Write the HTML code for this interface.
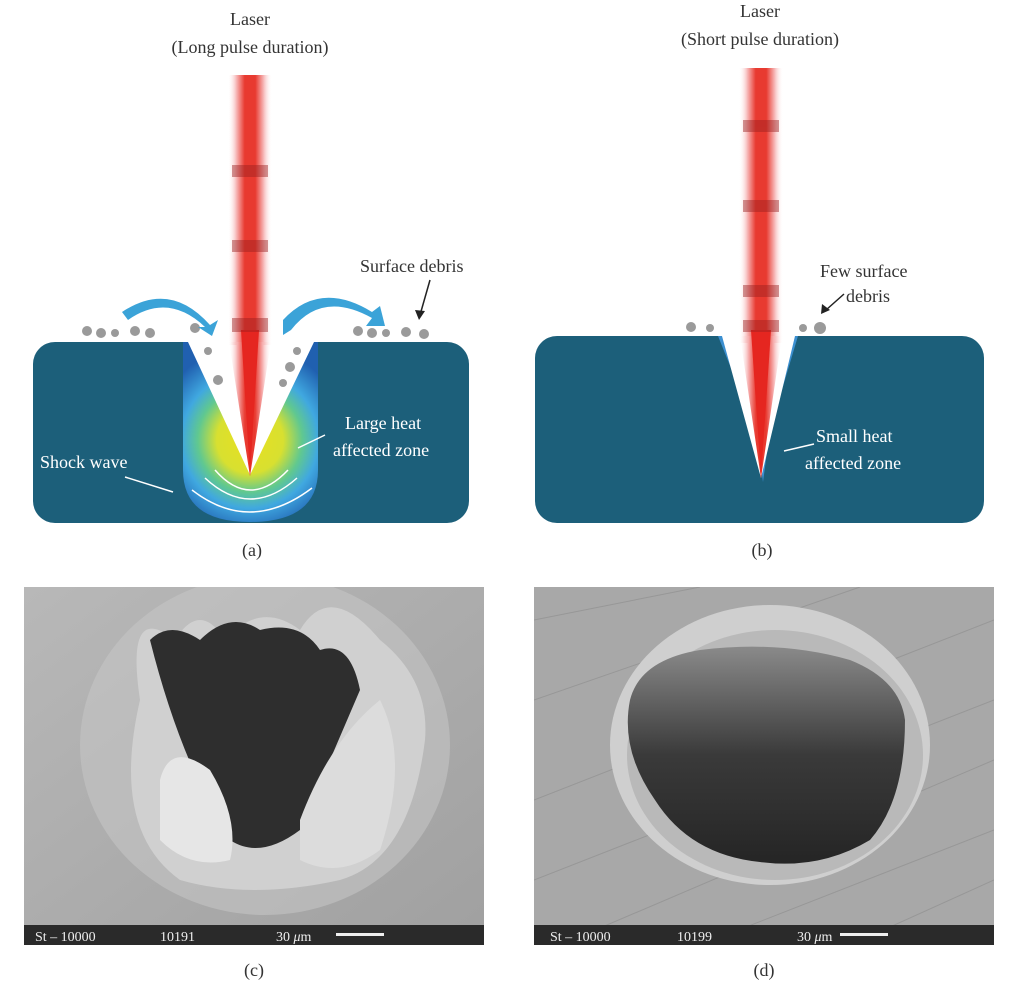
<!DOCTYPE html>
<html><head><meta charset="utf-8"><style>
html,body{margin:0;padding:0;background:#fff;}
svg{display:block;font-family:"Liberation Serif",serif;}
</style></head><body>
<svg width="1024" height="990" viewBox="0 0 1024 990" xmlns="http://www.w3.org/2000/svg">
<defs>
<linearGradient id="beam" x1="0" x2="1" y1="0" y2="0">
<stop offset="0" stop-color="#fff" stop-opacity="0"/>
<stop offset="0.2" stop-color="#f6b0b0"/>
<stop offset="0.38" stop-color="#e83a30"/>
<stop offset="0.62" stop-color="#e83a30"/>
<stop offset="0.8" stop-color="#f6b0b0"/>
<stop offset="1" stop-color="#fff" stop-opacity="0"/>
</linearGradient>
<radialGradient id="haz" cx="250" cy="440" r="95" gradientUnits="userSpaceOnUse">
<stop offset="0" stop-color="#e8e020"/>
<stop offset="0.35" stop-color="#d8e030"/>
<stop offset="0.55" stop-color="#60c890"/>
<stop offset="0.72" stop-color="#40a8e0"/>
<stop offset="1" stop-color="#2060b0"/>
</radialGradient>
<linearGradient id="semc" x1="0" x2="1" y1="0" y2="1">
<stop offset="0" stop-color="#b8b8b8"/><stop offset="1" stop-color="#a0a0a0"/>
</linearGradient>
<linearGradient id="holed" x1="0" x2="0" y1="0" y2="1">
<stop offset="0" stop-color="#8a8a8a"/><stop offset="0.5" stop-color="#3a3a3a"/><stop offset="1" stop-color="#252525"/>
</linearGradient>
<clipPath id="cc"><rect x="24" y="587" width="460" height="358"/></clipPath>
<clipPath id="cd"><rect x="534" y="587" width="460" height="358"/></clipPath>
</defs>

<!-- Panel a -->
<text x="250" y="25" font-size="18" text-anchor="middle" fill="#333">Laser</text>
<text x="250" y="53" font-size="18" text-anchor="middle" fill="#333">(Long pulse duration)</text>
<rect x="33" y="342" width="436" height="181" rx="22" fill="#1c5f7a"/>
<path d="M183 342 L318 342 L318 470 Q318 522 250 522 Q183 522 183 470 Z" fill="url(#haz)"/>
<path d="M188 342 L314 342 L250 475 Z" fill="#fff"/>
<rect x="228" y="75" width="44" height="270" fill="url(#beam)"/>
<path d="M229 342 L271 342 L250 476 Z" fill="url(#beam)"/>
<path d="M241 330 L259 330 L250 476 Z" fill="#e52620"/>
<g fill="#9a2020" opacity="0.45"><rect x="232" y="165" width="36" height="12"/><rect x="232" y="240" width="36" height="12"/><rect x="232" y="318" width="36" height="14"/></g>
<g fill="none" stroke="#fff" stroke-width="1.5">
<path d="M215 470 Q250 510 288 470"/><path d="M205 478 Q250 520 297 478"/><path d="M192 490 Q250 535 312 488"/>
</g>
<g fill="#9a9a9a">
<circle cx="87" cy="331" r="5"/><circle cx="101" cy="333" r="5"/><circle cx="115" cy="333" r="4"/><circle cx="135" cy="331" r="5"/><circle cx="150" cy="333" r="5"/>
<circle cx="195" cy="328" r="5"/><circle cx="208" cy="351" r="4"/><circle cx="218" cy="380" r="5"/>
<circle cx="297" cy="351" r="4"/><circle cx="290" cy="367" r="5"/><circle cx="283" cy="383" r="4"/>
<circle cx="358" cy="331" r="5"/><circle cx="372" cy="333" r="5"/><circle cx="386" cy="333" r="4"/><circle cx="406" cy="332" r="5"/><circle cx="424" cy="334" r="5"/>
</g>
<path d="M122 312 Q170 280 210 325 L218 320 L212 336 L198 327 L205 327 Q168 292 128 320 Z" fill="#3ba3d8"/>
<path d="M283 335 L283 320 Q320 280 372 312 L380 306 L385 326 L366 326 L372 318 Q322 290 291 330 Z" fill="#3ba3d8"/>
<text x="360" y="272" font-size="18" fill="#333">Surface debris</text>
<path d="M430 280 L420 315" stroke="#222" stroke-width="1.5"/><path d="M415 310 L419 320 L425 311 Z" fill="#222"/>
<text x="345" y="429" font-size="18" fill="#fff">Large heat</text>
<text x="333" y="456" font-size="18" fill="#fff">affected zone</text>
<path d="M325 435 L298 448" stroke="#fff" stroke-width="1.5"/>
<text x="40" y="468" font-size="18" fill="#fff">Shock wave</text>
<path d="M125 477 L173 492" stroke="#fff" stroke-width="1.5"/>
<text x="252" y="556" font-size="18" text-anchor="middle" fill="#333">(a)</text>

<!-- Panel b -->
<text x="760" y="17" font-size="18" text-anchor="middle" fill="#333">Laser</text>
<text x="760" y="45" font-size="18" text-anchor="middle" fill="#333">(Short pulse duration)</text>
<rect x="535" y="336" width="449" height="187" rx="22" fill="#1c5f7a"/>
<path d="M718 336 L798 336 L770 430 L763 482 L756 430 Z" fill="#3b8fd0"/>
<path d="M722 336 L795 336 L761 478 Z" fill="#fff"/>
<rect x="739" y="68" width="44" height="275" fill="url(#beam)"/>
<path d="M740 336 L782 336 L761 478 Z" fill="url(#beam)"/>
<path d="M751 330 L771 330 L761 478 Z" fill="#e52620"/>
<g fill="#9a2020" opacity="0.45"><rect x="743" y="120" width="36" height="12"/><rect x="743" y="200" width="36" height="12"/><rect x="743" y="285" width="36" height="12"/><rect x="743" y="320" width="36" height="12"/></g>
<g fill="#9a9a9a"><circle cx="691" cy="327" r="5"/><circle cx="710" cy="328" r="4"/><circle cx="803" cy="328" r="4"/><circle cx="820" cy="328" r="6"/></g>
<text x="820" y="277" font-size="18" fill="#333">Few surface</text>
<text x="846" y="302" font-size="18" fill="#333">debris</text>
<path d="M844 294 L826 310" stroke="#222" stroke-width="1.5"/><path d="M822 304 L821 314 L830 310 Z" fill="#222"/>
<text x="816" y="442" font-size="18" fill="#fff">Small heat</text>
<text x="805" y="469" font-size="18" fill="#fff">affected zone</text>
<path d="M814 444 L784 451" stroke="#fff" stroke-width="1.5"/>
<text x="762" y="556" font-size="18" text-anchor="middle" fill="#333">(b)</text>

<!-- SEM c -->
<g clip-path="url(#cc)">
<rect x="24" y="587" width="460" height="358" fill="url(#semc)"/>
<ellipse cx="265" cy="745" rx="185" ry="170" fill="#c4c4c4" opacity="0.6"/>
<path d="M140 700 Q125 600 175 640 Q200 600 225 640 Q260 600 300 630 Q330 580 380 640 Q430 680 425 740 Q410 860 340 880 Q250 900 180 880 Q110 830 140 700 Z" fill="#d0d0d0"/>
<path d="M150 640 Q170 620 200 640 Q230 610 260 630 Q300 620 320 650 Q350 640 360 690 Q330 760 300 830 Q260 860 230 840 Q180 760 150 640 Z" fill="#2e2e2e"/>
<path d="M160 780 Q170 740 210 770 Q240 820 230 860 Q190 870 160 840 Z" fill="#e6e6e6"/>
<path d="M300 820 Q330 740 380 700 Q410 760 380 850 Q340 880 300 860 Z" fill="#dcdcdc"/>
</g>
<rect x="24" y="925" width="460" height="20" fill="#2a2a2a"/>
<text x="35" y="941" font-size="14" fill="#eee">St – 10000</text>
<text x="160" y="941" font-size="14" fill="#eee">10191</text>
<text x="276" y="941" font-size="14" fill="#eee">30 <tspan font-style="italic">μ</tspan>m</text>
<rect x="336" y="933" width="48" height="3" fill="#eee"/>
<text x="254" y="976" font-size="18" text-anchor="middle" fill="#333">(c)</text>

<!-- SEM d -->
<g clip-path="url(#cd)">
<rect x="534" y="587" width="460" height="358" fill="#a8a8a8"/>
<g stroke="#8c8c8c" stroke-width="1" opacity="0.6">
<path d="M534 620 L700 587"/><path d="M534 700 L860 587"/><path d="M534 800 L994 620"/><path d="M560 945 L994 760"/><path d="M700 945 L994 830"/><path d="M850 945 L994 880"/><path d="M534 880 L994 700"/>
</g>
<ellipse cx="770" cy="745" rx="160" ry="140" fill="#cfcfcf"/>
<ellipse cx="775" cy="755" rx="148" ry="125" fill="#b9b9b9"/>
<path d="M630 700 Q640 660 700 650 Q780 640 850 660 Q900 680 905 720 Q905 800 870 840 Q820 870 760 862 Q690 855 655 800 Q620 750 630 700 Z" fill="url(#holed)"/>
</g>
<rect x="534" y="925" width="460" height="20" fill="#2a2a2a"/>
<text x="550" y="941" font-size="14" fill="#eee">St – 10000</text>
<text x="677" y="941" font-size="14" fill="#eee">10199</text>
<text x="797" y="941" font-size="14" fill="#eee">30 <tspan font-style="italic">μ</tspan>m</text>
<rect x="840" y="933" width="48" height="3" fill="#eee"/>
<text x="764" y="976" font-size="18" text-anchor="middle" fill="#333">(d)</text>
</svg>
</body></html>
